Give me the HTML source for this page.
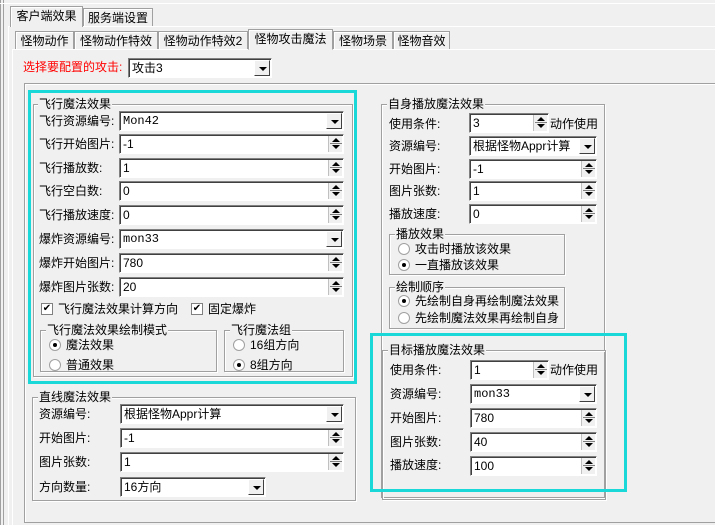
<!DOCTYPE html>
<html style="overflow:hidden;height:525px"><head><meta charset="utf-8"><style>
*{box-sizing:border-box;margin:0;padding:0}
body{width:715px;height:525px;background:#f0f0f0;position:relative;overflow:hidden;font-family:"Liberation Sans","Noto Sans CJK SC",sans-serif;font-size:12px;color:#000}
div,span{position:absolute}
.t{white-space:nowrap;line-height:16px}
.g{border:1px solid #a0a0a0;box-shadow:1px 1px 0 #fff, inset 1px 1px 0 #fff}
.gl{background:#f0f0f0;padding:0 1px;line-height:14px;white-space:nowrap}
.in{background:#fff;border-top:1px solid #808080;border-left:1px solid #808080;border-bottom:1px solid #fff;border-right:1px solid #fff;box-shadow:inset 1px 1px 0 #404040;height:20px;line-height:18px;padding-left:3px;white-space:nowrap;font-family:"Liberation Sans","Noto Sans CJK SC",sans-serif;font-size:12px}
.mo{font-family:"Liberation Mono",monospace}
.dd{right:1px;top:1px;width:16px;height:16px;background:#f0f0f0;border:1px solid;border-color:#fff #404040 #404040 #fff}
.dd:after{content:"";position:absolute;left:4px;top:6px;border-left:4px solid transparent;border-right:4px solid transparent;border-top:4px solid #000}
.sp{right:1px;top:1px;width:14px;height:16px;background:#f0f0f0;border-left:1px solid #c0c0c0}
.sp:before{content:"";position:absolute;left:3px;top:2px;border-left:4px solid transparent;border-right:4px solid transparent;border-bottom:4px solid #000}
.sp:after{content:"";position:absolute;left:3px;top:9px;border-left:4px solid transparent;border-right:4px solid transparent;border-top:4px solid #000}
.sp i{position:absolute;left:1px;top:7px;width:12px;height:1px;background:#808080}
.tab{border:1px solid #a0a0a0;border-bottom:none;background:#f0f0f0;line-height:18px;text-align:center;white-space:nowrap;box-shadow:inset 1px 1px 0 #fff}
.cy{border:3px solid #1ad8d8}
.rb{width:12px;height:12px;border-radius:50%;background:#fff;border:1px solid #a0a0a0}
.rb.on:after{content:"";position:absolute;left:3px;top:3px;width:4px;height:4px;border-radius:50%;background:#000}
.cb{width:12px;height:12px;background:#fff;border:1px solid #808080;font-size:10px;line-height:10px;text-align:center}
</style></head><body>
<div style="left:0;top:0;width:1px;height:525px;background:#a0a0a0"></div>
<div style="left:3px;top:0;width:1px;height:525px;background:#a0a0a0"></div>
<div style="left:8px;top:26px;width:1px;height:499px;background:#fff"></div>
<div style="left:12px;top:49px;width:1px;height:476px;background:#fff"></div>
<div style="left:0;top:3px;width:715px;height:1px;background:#fff"></div>
<div style="left:8px;top:26px;width:707px;height:1px;background:#fff"></div>
<div style="left:12px;top:49px;width:703px;height:1px;background:#fff"></div>
<div class="tab" style="left:10px;top:6px;width:73px;height:21px">客户端效果</div>
<div class="tab" style="left:83px;top:8px;width:70px;height:18px">服务端设置</div>
<div class="tab" style="left:15px;top:31px;width:59px;height:18px">怪物动作</div>
<div class="tab" style="left:74px;top:31px;width:84px;height:18px">怪物动作特效</div>
<div class="tab" style="left:158px;top:31px;width:90px;height:18px">怪物动作特效2</div>
<div class="tab" style="left:248px;top:29px;width:85px;height:21px;border-bottom:1px solid #f0f0f0">怪物攻击魔法</div>
<div class="tab" style="left:333px;top:31px;width:60px;height:18px">怪物场景</div>
<div class="tab" style="left:393px;top:31px;width:57px;height:18px">怪物音效</div>

<div class="t" style="left:23px;top:59px;color:#f00">选择要配置的攻击:</div>
<div class="in" style="left:128px;top:58px;width:144px">攻击3<div class="dd"></div></div>

<div style="left:24px;top:83px;width:700px;height:440px;border:1px solid #a0a0a0;box-shadow:inset 1px 1px 0 #fff"></div>

<div class="g" style="left:33px;top:104px;width:320px;height:273px"></div>
<div class="gl" style="left:38px;top:97px">飞行魔法效果</div>
<div class="t" style="left:39px;top:113px">飞行资源编号:</div>
<div class="in mo" style="left:119px;top:111px;width:225px">Mon42<div class="dd"></div></div>
<div class="t" style="left:39px;top:136px">飞行开始图片:</div>
<div class="in" style="left:119px;top:134px;width:225px">-1<div class="sp"><i></i></div></div>
<div class="t" style="left:39px;top:160px">飞行播放数:</div>
<div class="in" style="left:119px;top:158px;width:225px">1<div class="sp"><i></i></div></div>
<div class="t" style="left:39px;top:183px">飞行空白数:</div>
<div class="in" style="left:119px;top:181px;width:225px">0<div class="sp"><i></i></div></div>
<div class="t" style="left:39px;top:207px">飞行播放速度:</div>
<div class="in" style="left:119px;top:205px;width:225px">0<div class="sp"><i></i></div></div>
<div class="t" style="left:39px;top:231px">爆炸资源编号:</div>
<div class="in mo" style="left:119px;top:229px;width:225px">mon33<div class="dd"></div></div>
<div class="t" style="left:39px;top:255px">爆炸开始图片:</div>
<div class="in" style="left:119px;top:253px;width:225px">780<div class="sp"><i></i></div></div>
<div class="t" style="left:39px;top:279px">爆炸图片张数:</div>
<div class="in" style="left:119px;top:277px;width:225px">20<div class="sp"><i></i></div></div>
<div class="cb" style="left:41px;top:303px">✔</div>
<div class="t" style="left:58px;top:301px">飞行魔法效果计算方向</div>
<div class="cb" style="left:191px;top:303px">✔</div>
<div class="t" style="left:208px;top:301px">固定爆炸</div>
<div class="g" style="left:40px;top:330px;width:177px;height:42px"></div>
<div class="gl" style="left:46px;top:323px">飞行魔法效果绘制模式</div>
<div class="rb on" style="left:49px;top:339px"></div>
<div class="t" style="left:66px;top:337px">魔法效果</div>
<div class="rb" style="left:49px;top:359px"></div>
<div class="t" style="left:66px;top:357px">普通效果</div>
<div class="g" style="left:224px;top:330px;width:120px;height:42px"></div>
<div class="gl" style="left:230px;top:323px">飞行魔法组</div>
<div class="rb" style="left:233px;top:339px"></div>
<div class="t" style="left:250px;top:337px">16组方向</div>
<div class="rb on" style="left:233px;top:359px"></div>
<div class="t" style="left:250px;top:357px">8组方向</div>
<div class="cy" style="left:28px;top:90px;width:329px;height:294px"></div>

<div class="g" style="left:32px;top:397px;width:324px;height:104px"></div>
<div class="gl" style="left:38px;top:390px">直线魔法效果</div>
<div class="t" style="left:39px;top:406px">资源编号:</div>
<div class="in" style="left:120px;top:404px;width:224px">根据怪物Appr计算<div class="dd"></div></div>
<div class="t" style="left:39px;top:430px">开始图片:</div>
<div class="in" style="left:120px;top:428px;width:224px">-1<div class="sp"><i></i></div></div>
<div class="t" style="left:39px;top:454px">图片张数:</div>
<div class="in" style="left:120px;top:452px;width:224px">1<div class="sp"><i></i></div></div>
<div class="t" style="left:39px;top:479px">方向数量:</div>
<div class="in" style="left:120px;top:477px;width:146px">16方向<div class="dd"></div></div>

<div class="g" style="left:381px;top:104px;width:224px;height:394px"></div>
<div class="gl" style="left:387px;top:97px">自身播放魔法效果</div>
<div class="t" style="left:389px;top:116px">使用条件:</div>
<div class="in" style="left:469px;top:113px;width:80px">3<div class="sp"><i></i></div></div>
<div class="t" style="left:550px;top:116px">动作使用</div>
<div class="t" style="left:389px;top:138px">资源编号:</div>
<div class="in" style="left:469px;top:136px;width:128px">根据怪物Appr计算<div class="dd"></div></div>
<div class="t" style="left:389px;top:161px">开始图片:</div>
<div class="in" style="left:469px;top:159px;width:128px">-1<div class="sp"><i></i></div></div>
<div class="t" style="left:389px;top:183px">图片张数:</div>
<div class="in" style="left:469px;top:181px;width:128px">1<div class="sp"><i></i></div></div>
<div class="t" style="left:389px;top:206px">播放速度:</div>
<div class="in" style="left:469px;top:204px;width:128px">0<div class="sp"><i></i></div></div>
<div class="g" style="left:389px;top:234px;width:176px;height:41px"></div>
<div class="gl" style="left:395px;top:227px">播放效果</div>
<div class="rb" style="left:398px;top:243px"></div>
<div class="t" style="left:415px;top:241px">攻击时播放该效果</div>
<div class="rb on" style="left:398px;top:259px"></div>
<div class="t" style="left:415px;top:257px">一直播放该效果</div>
<div class="g" style="left:389px;top:287px;width:176px;height:42px"></div>
<div class="gl" style="left:395px;top:280px">绘制顺序</div>
<div class="rb on" style="left:398px;top:295px"></div>
<div class="t" style="left:415px;top:293px">先绘制自身再绘制魔法效果</div>
<div class="rb" style="left:398px;top:312px"></div>
<div class="t" style="left:415px;top:310px">先绘制魔法效果再绘制自身</div>

<div class="g" style="left:382px;top:350px;width:224px;height:150px"></div>
<div class="gl" style="left:388px;top:343px">目标播放魔法效果</div>
<div class="t" style="left:390px;top:362px">使用条件:</div>
<div class="in" style="left:470px;top:360px;width:79px">1<div class="sp"><i></i></div></div>
<div class="t" style="left:550px;top:362px">动作使用</div>
<div class="t" style="left:390px;top:386px">资源编号:</div>
<div class="in mo" style="left:470px;top:384px;width:127px">mon33<div class="dd"></div></div>
<div class="t" style="left:390px;top:410px">开始图片:</div>
<div class="in" style="left:470px;top:408px;width:127px">780<div class="sp"><i></i></div></div>
<div class="t" style="left:390px;top:434px">图片张数:</div>
<div class="in" style="left:470px;top:432px;width:127px">40<div class="sp"><i></i></div></div>
<div class="t" style="left:390px;top:457px">播放速度:</div>
<div class="in" style="left:470px;top:456px;width:127px">100<div class="sp"><i></i></div></div>
<div class="cy" style="left:370px;top:333px;width:257px;height:159px"></div>
</body></html>
